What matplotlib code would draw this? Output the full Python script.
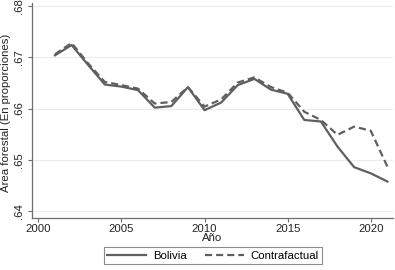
import matplotlib
matplotlib.use("Agg")
from matplotlib import pyplot as plt
from matplotlib.ticker import FuncFormatter

# data
years = list(range(2001, 2022))
bolivia = [0.6704, 0.6724, 0.6685, 0.6647, 0.6643, 0.6636, 0.6602, 0.6605, 0.6642, 0.6597, 0.6612,
           0.6646, 0.6658, 0.6637, 0.6629, 0.6578, 0.6575, 0.6526, 0.6486, 0.6474, 0.6458]
contrafactual = [0.6706, 0.6728, 0.6688, 0.6652, 0.6646, 0.6639, 0.6610, 0.6613, 0.6642, 0.6604, 0.6618,
                 0.6651, 0.6661, 0.6642, 0.6631, 0.6594, 0.6578, 0.6549, 0.6565, 0.6557, 0.6487]
x_ticks = [2000, 2005, 2010, 2015, 2020]
y_ticks = [0.64, 0.65, 0.66, 0.67, 0.68]

plt.rcParams['font.family'] = ['Liberation Sans', 'DejaVu Sans']
line_color = '#5f5f5f'
axis_color = '#6e6e6e'
fs = 8.2

fig = plt.figure(figsize=(3.95, 2.70), dpi=100)
ax = fig.add_axes([0.0803, 0.1937, 0.9147, 0.7953])

ax.plot(years, bolivia, color=line_color, linewidth=1.6, label='Bolivia')
ax.plot(years, contrafactual, color=line_color, linewidth=1.6, linestyle=(0, (3.2, 1.8)), label='Contrafactual')

ax.set_xlim(1999.6, 2021.34)
ax.set_ylim(0.63875, 0.6806)
ax.set_xticks(x_ticks)
ax.set_yticks(y_ticks)
ax.yaxis.set_major_formatter(FuncFormatter(lambda v, p: f"{v:.2f}"[1:]))
ax.grid(axis='y', color='#ececec', linewidth=0.8)
ax.set_axisbelow(True)

for side in ['top', 'right']:
    ax.spines[side].set_visible(False)
for side in ['left', 'bottom']:
    ax.spines[side].set_color(axis_color)
    ax.spines[side].set_linewidth(0.9)

ax.tick_params(axis='both', colors=axis_color, labelcolor='#222222', labelsize=fs, length=3, width=0.8)
ax.tick_params(axis='x', pad=1.5)
ax.tick_params(axis='y', pad=2.5)
for lbl in ax.get_yticklabels():
    lbl.set_rotation(90)
    lbl.set_va('center')

ax.set_xlabel('Año', fontsize=fs, color='#222222', labelpad=-1)
ax.set_ylabel('Área forestal (En proporciones)', fontsize=fs, color='#222222')
ax.yaxis.set_label_coords(-0.056, 0.49)

leg = fig.legend(loc='lower center', bbox_to_anchor=(0.539, 0.0), ncol=2, fontsize=fs,
                 frameon=True, fancybox=False, edgecolor=axis_color, handlelength=3.4,
                 columnspacing=1.6, borderpad=0.3, handletextpad=0.6)
leg.get_frame().set_linewidth(0.8)

fig.savefig('out.png', dpi=100)
